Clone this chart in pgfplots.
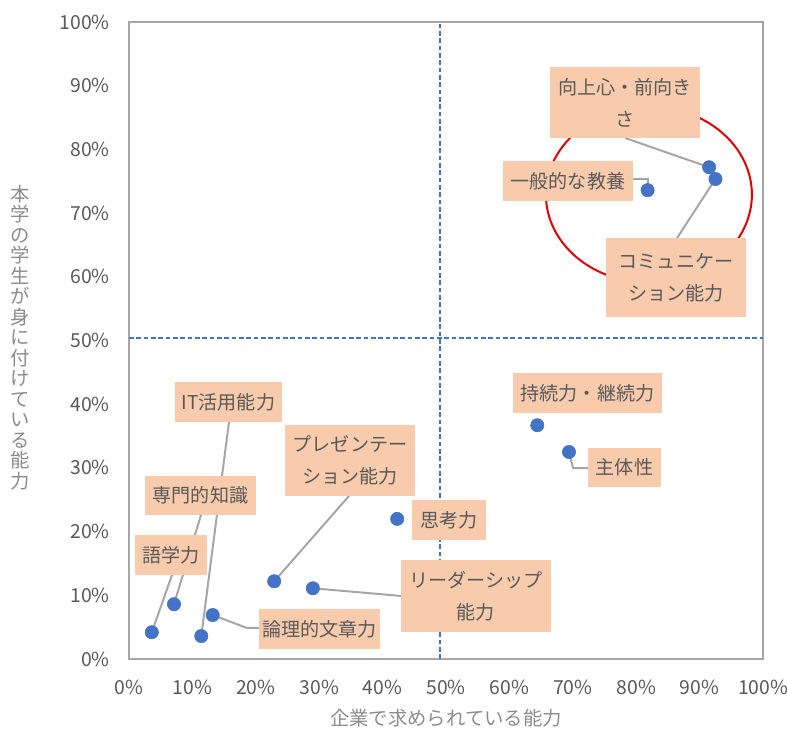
\documentclass[border=0pt]{standalone}
\usepackage{fontspec}
\setmainfont{Noto Sans CJK JP}
\usepackage{pgfplots}
\pgfplotsset{compat=1.18}
\definecolor{txt}{HTML}{595959}
\definecolor{ttl}{HTML}{8C8C8C}
\definecolor{boxc}{HTML}{F8CBAD}
\definecolor{dot}{HTML}{4472C4}
\definecolor{lead}{HTML}{A6A6A6}
\definecolor{frame}{HTML}{A6A6A6}
\definecolor{ring}{HTML}{E00000}
\tikzset{
  lab/.style={fill=boxc, text=txt, font=\fontsize{14.3pt}{24pt}\selectfont,
              align=center, inner sep=0pt},
  ldr/.style={draw=lead, line width=1.5pt},
}
\begin{document}
\begin{tikzpicture}
\useasboundingbox (0,0) rectangle (590.25pt,553.5pt);
\begin{axis}[
  at={(96.75pt,59.25pt)}, anchor=south west,
  width=475.5pt, height=477.75pt, scale only axis,
  xmin=0, xmax=100, ymin=0, ymax=100,
  xtick={0,10,...,100}, ytick={0,10,...,100},
  xticklabel={\pgfmathprintnumber{\tick}\%},
  yticklabel={\pgfmathprintnumber{\tick}\%},
  /pgf/number format/assume math mode=true,
  major tick length=0pt,
  axis line style={draw=frame, line width=1.2pt},
  tick label style={font=\fontsize{14.5pt}{16pt}\selectfont, text=txt},
  xticklabel style={yshift=-12pt},
  yticklabel style={xshift=-11pt},
  clip=false,
]
% quadrant dividers
\addplot[dot, line width=1.5pt, dash pattern=on 3.5pt off 2pt] coordinates {(49.05,0) (49.05,100)};
\addplot[dot, line width=1.5pt, dash pattern=on 3.5pt off 2pt] coordinates {(0,50.4) (100,50.4)};

% highlight ring
\draw[ring, line width=1.5pt] (axis cs:82.0,72.9) ellipse [x radius=77.25pt, y radius=66pt];

% leader lines
\draw[ldr] (axis cs:78.23,81.79) -- (axis cs:91.5,77.2);
\draw[ldr] (axis cs:79.5,75.35) -- (axis cs:81.8,75.35) -- (axis cs:81.8,73.6);
\draw[ldr] (axis cs:86.44,66.09) -- (axis cs:92.5,75.35);
\draw[ldr] (axis cs:15.77,37.21) -- (axis cs:11.4,3.6);
\draw[ldr] (axis cs:11.36,22.61) -- (axis cs:7.1,8.6);
\draw[ldr] (axis cs:6.78,13.19) -- (axis cs:3.6,4.2);
\draw[ldr] (axis cs:20.5,4.87) -- (axis cs:18.61,4.87) -- (axis cs:13.2,6.9);
\draw[ldr] (axis cs:34.7,25.59) -- (axis cs:22.9,12.2);
\draw[ldr] (axis cs:42.9,9.89) -- (axis cs:41.17,10.05) -- (axis cs:29.0,11.1);
\draw[ldr] (axis cs:72.4,29.98) -- (axis cs:70.03,29.98) -- (axis cs:69.4,32.5);

% data labels
\node[lab, minimum width=112.5pt, minimum height=53.25pt] at (axis cs:78.23,87.36) {向上心・前向き\\さ};
\node[lab, minimum width=97.5pt, minimum height=30pt] at (axis cs:69.24,75.04) {一般的な教養};
\node[lab, minimum width=105pt, minimum height=59.25pt] at (axis cs:86.28,59.89) {コミュニケー\\ション能力};
\node[lab, minimum width=80.25pt, minimum height=30pt] at (axis cs:15.69,40.35) {IT活用能力};
\node[lab, minimum width=83.25pt, minimum height=29.25pt] at (axis cs:11.28,25.67) {専門的知識};
\node[lab, minimum width=54pt, minimum height=30pt] at (axis cs:6.62,16.33) {語学力};
\node[lab, minimum width=97.5pt, minimum height=53.25pt] at (axis cs:34.86,31.16) {プレゼンテー\\ション能力};
\node[lab, minimum width=90.75pt, minimum height=30pt] at (axis cs:30.05,4.71) {論理的文章力};
\node[lab, minimum width=55.5pt, minimum height=30pt] at (axis cs:50.47,21.82) {思考力};
\node[lab, minimum width=112.5pt, minimum height=54pt] at (axis cs:54.73,9.89) {リーダーシップ\\能力};
\node[lab, minimum width=111.75pt, minimum height=30pt] at (axis cs:72.32,41.76) {持続力・継続力};
\node[lab, minimum width=54.75pt, minimum height=29.25pt] at (axis cs:78.15,30.06) {主体性};

% data points (x: 企業で求められている能力, y: 本学の学生が身に付けている能力)
\addplot[only marks, mark=*, mark size=5pt, mark options={fill=dot, draw=dot}] coordinates {
  (3.6,4.2)     % 語学力
  (7.1,8.6)     % 専門的知識
  (11.4,3.6)    % IT活用能力
  (13.2,6.9)    % 論理的文章力
  (22.9,12.2)   % プレゼンテーション能力
  (29.0,11.1)   % リーダーシップ能力
  (42.3,22.0)   % 思考力
  (64.4,36.7)   % 持続力・継続力
  (69.4,32.5)   % 主体性
  (81.8,73.6)   % 一般的な教養
  (91.5,77.2)   % 向上心・前向きさ
  (92.5,75.35)  % コミュニケーション能力
};
\end{axis}
\node[text=ttl, font=\fontsize{14.5pt}{16pt}\selectfont] at (334.5pt,15pt) {企業で求められている能力};
\node[text=ttl, font=\fontsize{14.5pt}{15.4pt}\selectfont, align=center, inner sep=0pt] at (15.5pt,300.4pt)
  {本\\学\\の\\学\\生\\が\\身\\に\\付\\け\\て\\い\\る\\能\\力};
\end{tikzpicture}
\end{document}
